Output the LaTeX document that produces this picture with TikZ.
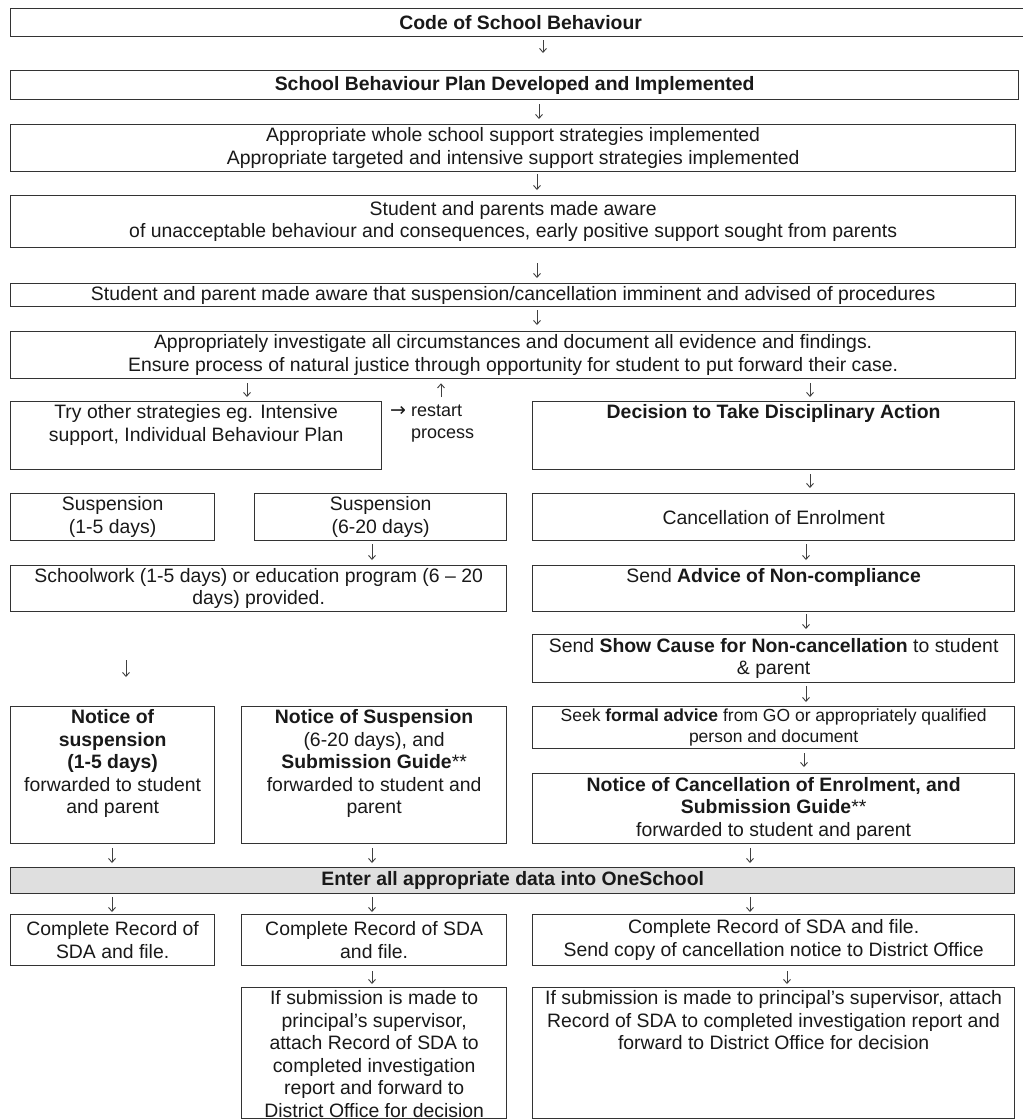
\documentclass[tikz,border=0pt]{standalone}
\usepackage{fontspec}
\setmainfont{Liberation Sans}
\newfontfamily\djv{DejaVu Sans}
\usetikzlibrary{arrows.meta}
\newcommand\bx[7]{\node[bx,anchor=north west] (#1) at (#2,#3) {\parbox[c][#5pt][#6]{#4pt}{\ifx t#6\vspace*{3pt}\fi\centering #7\par}};}
\newcommand\rarr{{\djv\fontsize{19}{19}\selectfont →}}
\begin{document}
\begin{tikzpicture}[x=1pt,y=-1pt,
  bx/.style={draw=black!80,line width=1.3pt,inner sep=0pt,text=black!90,
    font=\fontsize{19.4}{22.5}\selectfont},
  arr/.style={draw=black!75,line width=0.9pt,-{Straight Barb[length=4pt,width=7pt]}},
  note/.style={inner sep=0pt,text=black!90,font=\fontsize{18}{21.5}\selectfont,align=left}]
\useasboundingbox (0,0) rectangle (1023,1120);
\fill[white] (0,0) rectangle (1023,1120);

\bx{b1}{10}{8}{1020}{28}{c}{\textbf{Code of School Behaviour}}
\bx{b2}{10}{70}{1008}{29}{c}{\textbf{School Behaviour Plan Developed and Implemented}}
\bx{b3}{10}{124}{1005}{47}{c}{Appropriate whole school support strategies implemented\\Appropriate targeted and intensive support strategies implemented}
\bx{b4}{10}{195}{1005}{52}{c}{Student and parents made aware\\of unacceptable behaviour and consequences, early positive support sought from parents}
\bx{b5}{10}{283}{1005}{23}{c}{Student and parent made aware that suspension/cancellation imminent and advised of procedures}
\bx{b6}{10}{331}{1005}{47}{c}{Appropriately investigate all circumstances and document all evidence and findings.\\Ensure process of natural justice through opportunity for student to put forward their case.}
\bx{b7}{10}{401}{371}{68}{t}{Try other strategies eg. Intensive\\support, Individual Behaviour Plan}
\node[note,anchor=north west] (rs) at (390,405) {\rarr{} restart\\\phantom{\rarr{} }process};
\bx{b8}{532}{401}{482}{68}{t}{\textbf{Decision to Take Disciplinary Action}}
\bx{b9}{10}{493}{204}{47}{c}{Suspension\\(1-5 days)}
\bx{b10}{254}{493}{252}{47}{c}{Suspension\\(6-20 days)}
\bx{b11}{532}{493}{482}{47}{c}{Cancellation of Enrolment}
\bx{b12}{10}{565}{496}{46}{c}{Schoolwork (1-5 days) or education program (6 – 20\\days) provided.}
\bx{b13}{532}{565}{482}{46}{t}{Send \textbf{Advice of Non-compliance}}
\bx{b14}{532}{634}{482}{48}{c}{Send \textbf{Show Cause for Non-cancellation} to student\\\& parent}
\bx{b15}{532}{706}{482}{42}{c}{\fontsize{17.5}{21}\selectfont Seek \textbf{formal advice} from GO or appropriately qualified\\person and document}
\bx{b16}{532}{773}{482}{70}{c}{\textbf{Notice of Cancellation of Enrolment, and}\\\textbf{Submission Guide}**\\forwarded to student and parent}
\bx{b17}{10}{706}{204}{137}{t}{\textbf{Notice of}\\\textbf{suspension}\\\textbf{(1-5 days)}\\forwarded to student\\and parent}
\bx{b18}{241}{706}{265}{137}{t}{\textbf{Notice of Suspension}\\(6-20 days), and\\\textbf{Submission Guide}**\\forwarded to student and\\parent}
\node[bx,fill=gray!25,anchor=north west] (b19) at (10,867) {\parbox[c][26pt][c]{1004pt}{\centering\textbf{Enter all appropriate data into OneSchool}\par}};
\bx{b20}{10}{914}{204}{51}{c}{Complete Record of\\SDA and file.}
\bx{b21}{241}{914}{265}{51}{c}{Complete Record of SDA\\and file.}
\bx{b22}{532}{914}{482}{51}{c}{Complete Record of SDA and file.\\Send copy of cancellation notice to District Office}
\bx{b23}{241}{987}{265}{131}{t}{If submission is made to\\principal's supervisor,\\attach Record of SDA to\\completed investigation\\report and forward to\\District Office for decision}
\bx{b24}{532}{987}{482}{131}{t}{If submission is made to principal's supervisor, attach\\Record of SDA to completed investigation report and\\forward to District Office for decision}

\draw[arr,shorten <=3pt,shorten >=17pt] (b1.south -| 543,0) -- (b2.north -| 543,0);
\draw[arr,shorten <=4pt,shorten >=5pt] (b2.south -| 539,0) -- (b3.north -| 539,0);
\draw[arr,shorten <=2pt,shorten >=5pt] (b3.south -| 537,0) -- (b4.north -| 537,0);
\draw[arr,shorten <=15pt,shorten >=5pt] (b4.south -| 537,0) -- (b5.north -| 537,0);
\draw[arr,shorten <=3pt,shorten >=6pt] (b5.south -| 537,0) -- (b6.north -| 537,0);
\draw[arr,shorten <=4pt,shorten >=4pt] (b6.south -| 247,0) -- (b7.north -| 247,0);
\draw[arr,shorten <=8pt,shorten >=4pt] (rs.north -| 441,0) -- (b6.south -| 441,0);
\draw[arr,shorten <=4pt,shorten >=4pt] (b6.south -| 810,0) -- (b8.north -| 810,0);
\draw[arr,shorten <=4pt,shorten >=5pt] (b8.south -| 810,0) -- (b11.north -| 810,0);
\draw[arr,shorten <=3pt,shorten >=5pt] (b10.south -| 372,0) -- (b12.north -| 372,0);
\draw[arr,shorten <=3pt,shorten >=5pt] (b11.south -| 806,0) -- (b13.north -| 806,0);
\draw[arr,shorten <=2pt,shorten >=5pt] (b13.south -| 806,0) -- (b14.north -| 806,0);
\draw[arr,shorten <=48pt,shorten >=29pt] (b12.south -| 126,0) -- (b17.north -| 126,0);
\draw[arr,shorten <=3pt,shorten >=4pt] (b14.south -| 806,0) -- (b15.north -| 806,0);
\draw[arr,shorten <=4pt,shorten >=6pt] (b15.south -| 804,0) -- (b16.north -| 804,0);
\draw[arr,shorten <=4pt,shorten >=4pt] (b17.south -| 112,0) -- (b19.north -| 112,0);
\draw[arr,shorten <=4pt,shorten >=4pt] (b18.south -| 372,0) -- (b19.north -| 372,0);
\draw[arr,shorten <=4pt,shorten >=4pt] (b16.south -| 750,0) -- (b19.north -| 750,0);
\draw[arr,shorten <=3pt,shorten >=2pt] (b19.south -| 112,0) -- (b20.north -| 112,0);
\draw[arr,shorten <=3pt,shorten >=2pt] (b19.south -| 372,0) -- (b21.north -| 372,0);
\draw[arr,shorten <=3pt,shorten >=2pt] (b19.south -| 750,0) -- (b22.north -| 750,0);
\draw[arr,shorten <=5pt,shorten >=3pt] (b21.south -| 372,0) -- (b23.north -| 372,0);
\draw[arr,shorten <=5pt,shorten >=3pt] (b22.south -| 787,0) -- (b24.north -| 787,0);
\end{tikzpicture}
\end{document}
